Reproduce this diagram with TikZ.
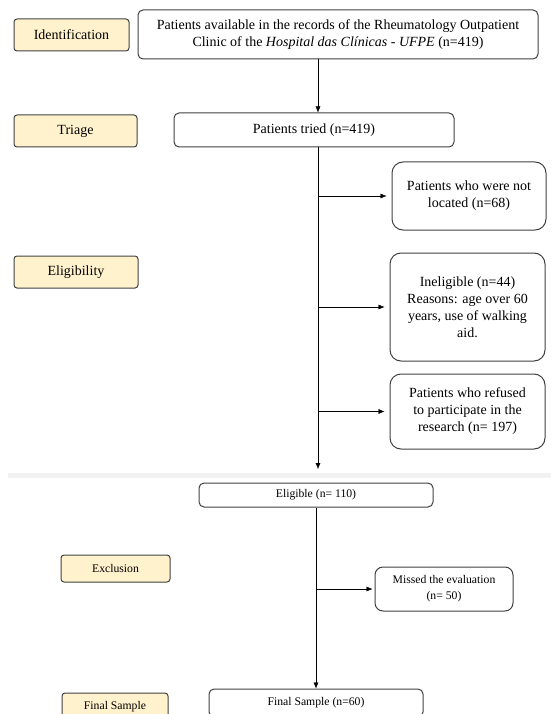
\documentclass[tikz,border=0pt]{standalone}
\usepackage{fontspec}
\setmainfont{Liberation Serif}
\usetikzlibrary{arrows.meta}
\definecolor{stagefill}{HTML}{FFF2CC}
\definecolor{boxline}{HTML}{404040}

\begin{document}
\begin{tikzpicture}[x=1pt,y=-1pt,
  stage/.style={draw=boxline, fill=stagefill, line width=1pt, rounded corners=3pt, inner sep=0pt},
  box/.style={draw=boxline, line width=1pt, rounded corners=5pt, inner sep=0pt, align=center},
  side/.style={box, rounded corners=11pt},
  big/.style={font=\fontsize{14}{17}\selectfont},
  small/.style={font=\fontsize{11.7}{16}\selectfont},
  >={Latex[length=6pt,width=5pt]}]

\clip (0,0) rectangle (551,714);

% page break left in the figure
\fill[black!5] (8,473) rectangle (551,477.5);

\node[stage,big,minimum width=115,minimum height=32] (ident)  at (71.5,35)  {Identification};
\node[stage,big,minimum width=123,minimum height=32] (triage) at (75.5,131) {Triage};
\node[stage,big,minimum width=124,minimum height=32] (elig)   at (76,272)   {Eligibility};
\node[stage,small,minimum width=109,minimum height=27] (excl)  at (115.5,568.5) {Exclusion};
\node[stage,small,minimum width=106,minimum height=27] (final) at (115,706.5)   {Final Sample};

\node[box,big,minimum width=400,minimum height=49] (records) at (338,34.5)
  {Patients available in the records of the Rheumatology Outpatient\\
   Clinic of the \textit{Hospital das Clínicas - UFPE} (n=419)};
\node[box,big,minimum width=280,minimum height=34] (tried) at (314,130) {Patients tried (n=419)};

\node[side,big,minimum width=154,minimum height=68]  (notloc)  at (469,196)   {Patients who were not\\located (n=68)};
\node[side,big,minimum width=155,minimum height=108] (inelig)  at (467.5,307) {Ineligible (n=44)\\Reasons: age over 60\\years, use of walking\\aid.};
\node[side,big,minimum width=155,minimum height=75]  (refused) at (467.5,411.5) {Patients who refused\\to participate in the\\research (n= 197)};

\node[box,small,minimum width=234,minimum height=24] (eligible) at (316,495) {Eligible (n= 110)};
\node[box,small,minimum width=138,minimum height=44,rounded corners=8pt] (missed) at (444,589) {Missed the evaluation\\(n= 50)};
\node[box,small,minimum width=214,minimum height=28] (sample) at (316,703) {Final Sample (n=60)};

\coordinate (spine) at (318,0);
\coordinate (gap)   at (318,469);

\draw[->] (records.south -| spine) -- (tried.north -| spine);
\draw[->] (tried.south -| spine)   -- (gap);
\draw[->,shorten >=5pt] (spine |- notloc.west)  -- (notloc.west);
\draw[->,shorten >=5pt] (spine |- inelig.west)  -- (inelig.west);
\draw[->,shorten >=5pt] (spine |- refused.west) -- (refused.west);

\draw[->] (eligible) -- (sample);
\draw[->,shorten >=2pt] (eligible |- missed.west) -- (missed.west);

\end{tikzpicture}
\end{document}
